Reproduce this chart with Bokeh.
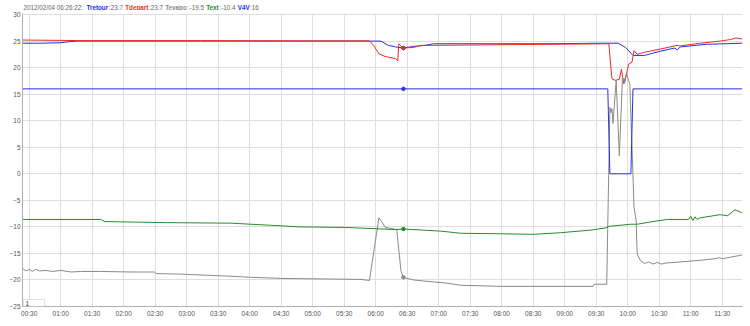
from datetime import datetime
from bokeh.plotting import figure
from bokeh.layouts import column
from bokeh.models import Range1d, FixedTicker, DatetimeTickFormatter, BoxAnnotation
from bokeh.core.properties import value
from bokeh.embed import file_html
from bokeh.resources import INLINE

day = "2012-02-04"
x_start, x_end = "00:23:36", "11:49:18"
y_lo, y_hi = -25, 30.2

x_tick_labels = ["00:30", "01:00", "01:30", "02:00", "02:30", "03:00", "03:30", "04:00",
                 "04:30", "05:00", "05:30", "06:00", "06:30", "07:00", "07:30", "08:00",
                 "08:30", "09:00", "09:30", "10:00", "10:30", "11:00", "11:30"]
y_ticks = [-25, -20, -15, -10, -5, 0, 5, 10, 15, 20, 25, 30]

tretour_t = ["00:24", "00:41", "01:00", "01:09", "01:16", "03:13", "04:48", "05:55", "06:05",
             "06:12", "06:19", "06:26", "06:36", "06:47", "06:55", "07:49", "08:46", "09:34",
             "09:51", "09:58", "10:05", "10:16", "10:31", "10:45", "10:47", "10:50", "11:15", "11:49"]
tretour_v = [24.6, 24.6, 24.7, 24.9, 25.0, 25.0, 25.0, 25.0, 25.0, 24.2, 23.9, 23.7, 24.0, 24.2,
             24.5, 24.5, 24.5, 24.6, 24.6, 23.8, 22.3, 22.3, 23.1, 23.7, 23.3, 23.9, 24.4, 24.6]

tdepart_t = ["00:24", "01:16", "03:13", "04:48", "05:54", "05:58", "06:03", "06:09", "06:19",
             "06:21", "06:22", "06:26", "06:36", "06:43", "06:55", "07:49", "08:46", "09:42",
             "09:44", "09:45", "09:48", "09:52", "09:54", "09:56", "09:59", "10:01", "10:04",
             "10:06", "10:09", "10:16", "10:31", "10:47", "10:50", "11:09", "11:28", "11:38",
             "11:43", "11:49"]
tdepart_v = [25.2, 25.1, 25.1, 25.05, 25.05, 24.2, 22.6, 22.1, 21.7, 21.3, 24.5, 23.7, 23.8, 24.2,
             24.2, 24.3, 24.4, 24.5, 20.0, 17.9, 17.6, 17.8, 19.7, 17.0, 19.0, 20.7, 21.0, 23.2,
             22.5, 22.9, 23.5, 24.2, 24.1, 24.6, 25.0, 25.3, 25.6, 25.4]

tevapo_t = ["00:24", "00:27", "00:30", "00:33", "00:36", "00:40", "00:46", "00:52", "01:00",
            "01:10", "01:19", "01:38", "02:07", "02:29", "02:31", "02:54", "03:42", "04:01",
            "04:29", "05:07", "05:46", "05:54", "06:03", "06:07", "06:09", "06:20", "06:24",
            "06:26", "06:36", "06:46", "07:08", "07:21", "07:59", "09:27", "09:28", "09:40",
            "09:43", "09:44", "09:45", "09:46", "09:49", "09:52", "09:55", "09:57", "09:59",
            "10:01", "10:02", "10:06", "10:08", "10:09", "10:12", "10:16", "10:20", "10:24",
            "10:28", "10:32", "10:37", "10:50", "11:09", "11:23", "11:27", "11:30", "11:38", "11:49"]
tevapo_v = [-17.9, -18.3, -18.0, -18.4, -18.0, -18.3, -18.2, -18.4, -18.2, -18.5, -18.4, -18.4,
            -18.5, -18.5, -18.8, -18.9, -19.3, -19.5, -19.7, -19.8, -19.9, -20.1, -8.3, -9.4,
            -10.1, -10.5, -18.2, -19.5, -20.0, -20.2, -20.6, -21.0, -21.2, -21.2, -20.8, -20.8,
            12.5, 11.5, 12.3, 9.5, 17.6, 3.4, 18.2, 17.0, 18.8, 17.5, 17.0, -6.3, -8.8, -15.1,
            -16.3, -16.9, -16.6, -17.0, -16.7, -17.0, -16.8, -16.6, -16.3, -16.0, -15.8, -16.0,
            -15.7, -15.3]

text_t = ["00:24", "01:38", "01:42", "02:40", "03:42", "04:20", "04:48", "05:30", "06:19",
          "06:26", "07:02", "07:21", "07:59", "08:30", "08:56", "09:25", "09:39", "09:42",
          "10:03", "10:09", "10:24", "10:38", "10:58", "11:00", "11:02", "11:04", "11:06",
          "11:09", "11:28", "11:35", "11:42", "11:45", "11:49"]
text_v = [-8.6, -8.6, -9.0, -9.2, -9.3, -9.7, -10.0, -10.1, -10.5, -10.4, -10.8, -11.2, -11.3,
          -11.4, -11.1, -10.6, -10.2, -9.9, -9.5, -9.5, -9.0, -8.6, -8.6, -8.0, -8.8, -8.1,
          -8.6, -8.3, -7.7, -7.9, -6.8, -7.0, -7.4]

v4v_t = ["00:24", "09:41", "09:43", "10:03", "10:05", "11:49"]
v4v_v = [16, 16, 0, 0, 16, 16]

hover_time = "06:26:22"
hover_label = "2012/02/04 06:26:22:"
series_names = ["Tretour", "Tdepart", "Tevapo", "Text", "V4V"]
hover_values = [23.7, 23.7, -19.5, -10.4, 16]
series_colors = ["#2b2bee", "#ee2b2b", "#8a8a8a", "#2a8a2a", "#2b2bee"]
roll_period = "1"

EPOCH = datetime(1970, 1, 1)


def to_ms(s):
    fmt = "%Y-%m-%d %H:%M:%S" if s.count(":") == 2 else "%Y-%m-%d %H:%M"
    return (datetime.strptime(day + " " + s, fmt) - EPOCH).total_seconds() * 1000.0


W = 750
TOP_H = 10
H = 316
FL, FR, FT, FB = 22, 8, 3, 20
x0, x1 = to_ms(x_start), to_ms(x_end)
FONT = "Liberation Sans"
LEG_SIZE = 6.3
LEG_SCALE = 1.07

# Arial-compatible advance widths (per 1000 em) for laying the legend out in a row
REG = {"/": 278, ":": 278, " ": 278, "-": 333, ".": 278}
BOLD = {"T": 611, "r": 389, "e": 556, "t": 333, "o": 611, "u": 611, "d": 611, "p": 611,
        "a": 556, "v": 556, "x": 556, "V": 667}


def text_w(s, bold):
    tab = BOLD if bold else REG
    return sum(tab.get(ch, 556) for ch in s) / 1000.0 * LEG_SIZE * LEG_SCALE


# ---- legend strip (dygraphs-style hover legend) ----
lg = figure(width=W, height=TOP_H, x_range=Range1d(0, W), y_range=Range1d(TOP_H, 0),
            output_backend="svg", toolbar_location=None, x_axis_location=None,
            y_axis_location=None, min_border=0, min_border_left=0, min_border_right=0,
            min_border_top=0, min_border_bottom=0)
lg.outline_line_color = None
lg.xgrid.visible = False
lg.ygrid.visible = False

segs = [(hover_label + " ", "#666666", False)]
for name, v, c in zip(series_names, hover_values, series_colors):
    segs.append((name, c, True))
    segs.append((":" + ("%g" % v) + " ", "#666666", False))
xs, texts, cols, styles = [], [], [], []
cur = 1.0
for s, c, b in segs:
    xs.append(cur)
    texts.append(s.rstrip())
    cols.append(c)
    styles.append("bold" if b else "normal")
    cur += text_w(s, b)
lg.text(x=xs, y=[5] * len(xs), text=texts, text_font=value(FONT), text_font_size=f"{LEG_SIZE}px",
        text_color=cols, text_font_style=styles, text_baseline="middle")

# ---- main chart ----
p = figure(width=W, height=H, x_axis_type="datetime",
           x_range=Range1d(x0, x1), y_range=Range1d(y_lo, y_hi),
           output_backend="svg", toolbar_location=None,
           min_border_left=FL, min_border_right=FR, min_border_top=FT, min_border_bottom=FB)
p.outline_line_color = None
p.background_fill_color = "white"
p.border_fill_color = "white"

for ax in (p.xaxis[0], p.yaxis[0]):
    ax.axis_line_color = "#b0b0b0"
    ax.major_tick_line_color = None
    ax.minor_tick_line_color = None
    ax.major_tick_out = 0
    ax.major_tick_in = 0
    ax.minor_tick_out = 0
    ax.minor_tick_in = 0
    ax.major_label_text_font = FONT
    ax.major_label_text_font_size = "6.5px"
    ax.major_label_text_color = "#555555"
p.yaxis.major_label_standoff = 2
p.xaxis.major_label_standoff = 3
p.xaxis.ticker = FixedTicker(ticks=[to_ms(t) for t in x_tick_labels])
p.yaxis.ticker = FixedTicker(ticks=y_ticks)
fmt = "%H:%M"
p.xaxis.formatter = DatetimeTickFormatter(seconds=fmt, minsec=fmt, minutes=fmt, hourmin=fmt,
                                          hours=fmt, days=fmt)
p.xgrid.grid_line_color = "#dedede"
p.ygrid.grid_line_color = "#dedede"

series = [(tretour_t, tretour_v), (tdepart_t, tdepart_v), (tevapo_t, tevapo_v),
          (text_t, text_v), (v4v_t, v4v_v)]
for (ts, vs), c in zip(series, series_colors):
    p.line([to_ms(t) for t in ts], vs, line_color=c, line_width=1)

hx = to_ms(hover_time)
p.scatter([hx] * len(hover_values), hover_values, size=3.5, fill_color=series_colors,
          line_color=series_colors)


def px_x(px):
    return x0 + (px - FL) / (W - FL - FR) * (x1 - x0)


def px_y(py):
    return y_hi - (py - FT) / (H - FT - FB) * (y_hi - y_lo)


# roll-period input box (bottom-left corner)
p.add_layout(BoxAnnotation(left=px_x(23), right=px_x(44), top=px_y(289), bottom=y_lo,
                           fill_color="white", fill_alpha=1, line_color="#a0a0a0", line_width=1))
p.text(x=[px_x(25)], y=[px_y(293)], text=[roll_period], text_font=value(FONT),
       text_font_size="6.5px", text_color="#333333", text_baseline="middle", level="overlay")

open("out.html", "w").write(file_html(column(lg, p, spacing=0), INLINE))
